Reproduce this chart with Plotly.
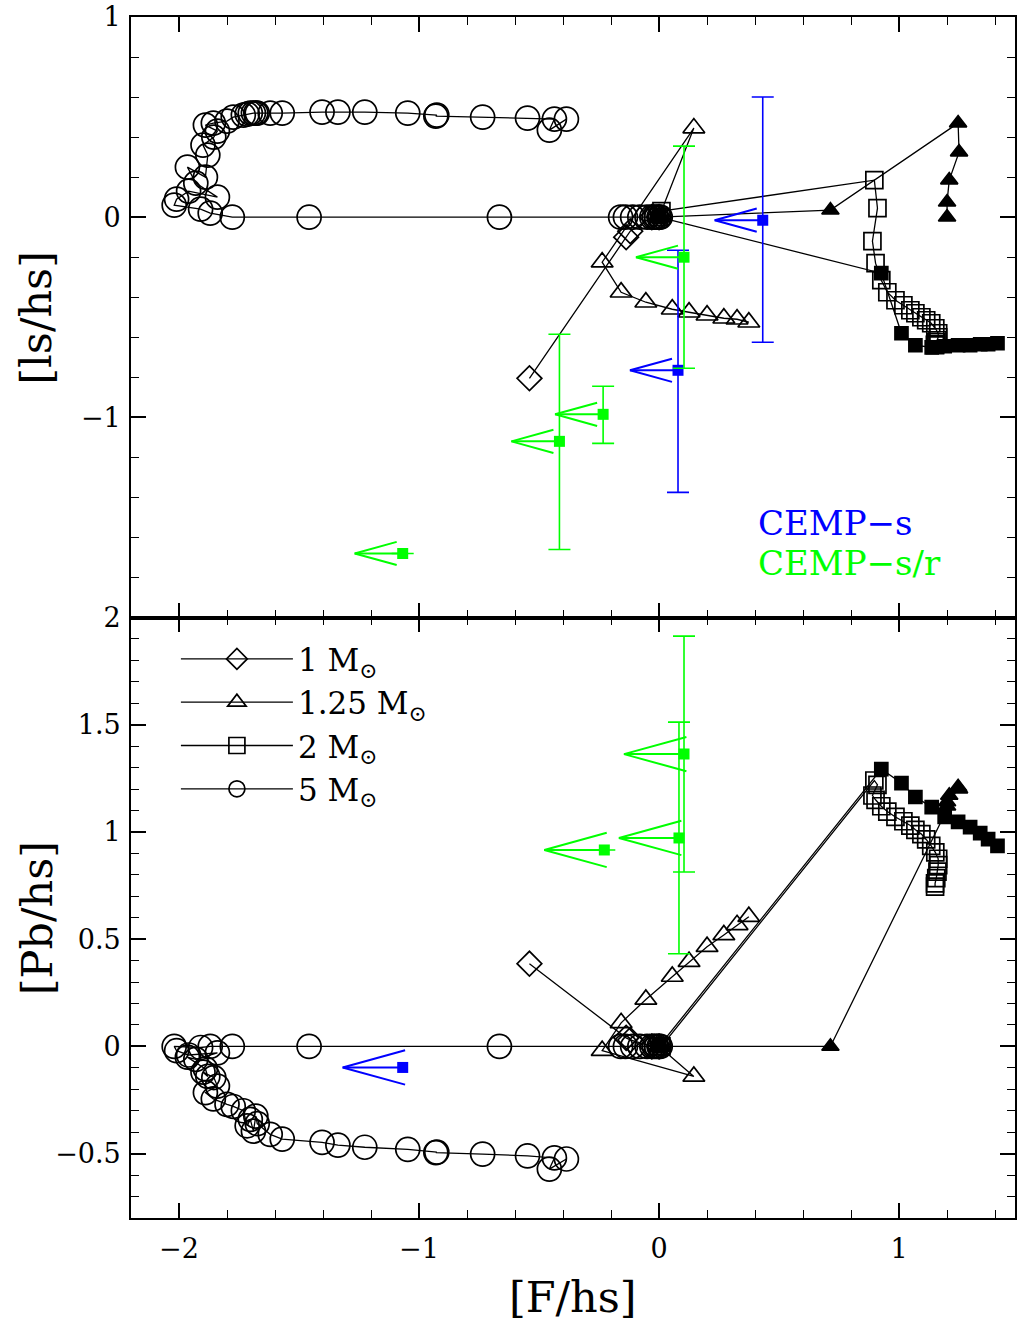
import plotly.graph_objects as go
from plotly.subplots import make_subplots

# ---------------- model tracks ----------------
# 1 Msun (open diamonds)
m1_x = [0.0, -0.03, -0.12, -0.137, -0.54]
m1_ls = [0.0, 0.0, -0.07, -0.10, -0.805]
m1_pb = [0.0, 0.0, 0.03, 0.04, 0.386]

# 1.25 Msun (open triangles)
m125_x = [0.0, 0.145, -0.237, -0.158, -0.055, 0.055, 0.125, 0.20, 0.27, 0.325, 0.374]
m125_ls = [0.0, 0.445, -0.225, -0.375, -0.425, -0.46, -0.475, -0.49, -0.505, -0.51, -0.525]
m125_pb = [0.0, -0.14, -0.02, 0.11, 0.219, 0.326, 0.395, 0.465, 0.52, 0.567, 0.605]

# 1.25 Msun variant (filled triangles)
m125f_x = [0.0, 0.714, 1.246, 1.25, 1.209, 1.20, 1.20]
m125f_ls = [0.0, 0.035, 0.47, 0.325, 0.185, 0.075, 0.0]
m125f_pb = [0.0, 0.0, 1.21, 1.20, 1.17, 1.14, 1.12]

# 2 Msun (open squares)
m2_x = [0.0, 0.01, 0.897, 0.91, 0.889, 0.902, 0.926, 0.951, 0.985, 1.018, 1.047, 1.068,
        1.093, 1.113, 1.134, 1.151, 1.163, 1.163, 1.16, 1.155, 1.15, 1.15]
m2_ls = [0.0, 0.03, 0.185, 0.045, -0.12, -0.23, -0.315, -0.375, -0.415, -0.44, -0.465, -0.48,
         -0.50, -0.515, -0.53, -0.555, -0.58, -0.60, -0.615, -0.625, -0.635, -0.64]
m2_pb = [0.0, 0.0, 1.24, 1.22, 1.17, 1.15, 1.12, 1.095, 1.07, 1.05, 1.03, 1.01,
         0.99, 0.965, 0.935, 0.905, 0.875, 0.845, 0.815, 0.785, 0.76, 0.745]

# 2 Msun variant (filled squares)
m2f_x = [0.0, 0.926, 1.01, 1.068, 1.136, 1.19, 1.246, 1.296, 1.338, 1.371, 1.41]
m2f_ls = [0.0, -0.28, -0.58, -0.64, -0.65, -0.645, -0.64, -0.64, -0.635, -0.635, -0.63]
m2f_pb = [0.0, 1.293, 1.228, 1.163, 1.116, 1.07, 1.047, 1.023, 0.995, 0.967, 0.935]

# 5 Msun (open circles)
m5_x = [0.0, 0.005, -0.01, -0.02, -0.03, -0.05, -0.08, -0.11, -0.14, -0.16, -0.665, -1.458,
        -1.778, -1.87, -1.91, -2.02, -2.01, -1.96, -1.84, -1.93, -1.965, -1.89, -1.88, -1.90,
        -1.855, -1.84, -1.89, -1.857, -1.80, -1.774, -1.732, -1.716, -1.703, -1.69, -1.68,
        -1.674, -1.62, -1.57, -1.404, -1.338, -1.226, -1.047, -0.926, -0.93, -0.735, -0.548,
        -0.436, -0.457, -0.386]
m5_ls = [0.0, 0.0, 0.0, 0.0, 0.0, 0.0, 0.0, 0.0, 0.0, 0.0, 0.0, 0.0,
         0.0, 0.02, 0.04, 0.06, 0.09, 0.13, 0.10, 0.17, 0.25, 0.20, 0.31, 0.36,
         0.40, 0.43, 0.46, 0.47, 0.48, 0.50, 0.51, 0.515, 0.52, 0.52, 0.52,
         0.52, 0.52, 0.52, 0.525, 0.525, 0.525, 0.52, 0.51, 0.505, 0.50, 0.495,
         0.49, 0.435, 0.49]
m5_pb = [0.0, 0.0, 0.0, 0.0, 0.0, 0.0, 0.0, 0.0, 0.0, 0.0, 0.0, 0.0,
         0.0, 0.0, -0.005, 0.0, -0.02, -0.04, -0.03, -0.06, -0.05, -0.105, -0.14, -0.12,
         -0.145, -0.185, -0.215, -0.245, -0.27, -0.28, -0.30, -0.37, -0.34, -0.395, -0.325,
         -0.36, -0.41, -0.432, -0.447, -0.46, -0.47, -0.48, -0.493, -0.495, -0.502, -0.51,
         -0.52, -0.572, -0.525]

# ---------------- observations (upper limits in [F/hs]) ----------------
# top panel [ls/hs]
obs_s_ls_x = [0.432, 0.079]
obs_s_ls_y = [-0.015, -0.765]
obs_s_ls_err_plus = [0.615, 0.60]
obs_s_ls_err_minus = [0.61, 0.61]

obs_sr_ls_x = [0.104, -0.233, -0.415, -1.068]
obs_sr_ls_y = [-0.20, -0.985, -1.12, -1.68]
obs_sr_ls_err_plus = [0.555, 0.14, 0.535, 0.0]
obs_sr_ls_err_minus = [0.555, 0.145, 0.54, 0.0]

# bottom panel [Pb/hs]
obs_s_pb_x = [-1.068]
obs_s_pb_y = [-0.098]

obs_sr_pb_x = [-0.228, 0.083, 0.104]
obs_sr_pb_y = [0.916, 0.972, 1.363]
obs_sr_pb_err = [0.0, 0.54, 0.55]

legend_names = ["1 M<sub>⊙</sub>", "1.25 M<sub>⊙</sub>", "2 M<sub>⊙</sub>", "5 M<sub>⊙</sub>"]

BLUE = "#0000ff"
GREEN = "#00ff00"
FONT = "DejaVu Serif"


def limit_arrows(xs, ys, length, barb, half):
    X, Y = [], []
    for x, y in zip(xs, ys):
        tip = x - length
        X += [x, tip, None, tip + barb, tip, tip + barb, None]
        Y += [y, y, None, y + half, y, y - half, None]
    return X, Y


fig = make_subplots(rows=2, cols=1, shared_xaxes=True, vertical_spacing=0)

models = [
    (m1_x, m1_ls, m1_pb, "diamond-open", 19, legend_names[0], True),
    (m125_x, m125_ls, m125_pb, "triangle-up-open", 19, legend_names[1], True),
    (m2_x, m2_ls, m2_pb, "square-open", 17, legend_names[2], True),
    (m5_x, m5_ls, m5_pb, "circle-open", 24, legend_names[3], True),
    (m125f_x, m125f_ls, m125f_pb, "triangle-up", 15, "1.25f", False),
    (m2f_x, m2f_ls, m2f_pb, "square", 13, "2f", False),
]

for i, (mx, mls, mpb, sym, size, name, leg) in enumerate(models):
    for row, my in ((1, mls), (2, mpb)):
        fig.add_trace(go.Scatter(
            x=mx, y=my, mode="lines+markers", name=name,
            legendgroup=name, showlegend=(leg and row == 1),
            line=dict(color="black", width=1.3),
            marker=dict(symbol=sym, size=size, color="black",
                        line=dict(color="black", width=1.7)),
        ), row=row, col=1)

# top panel observations
for xs, ys, ep, em, col in ((obs_s_ls_x, obs_s_ls_y, obs_s_ls_err_plus, obs_s_ls_err_minus, BLUE),
                            (obs_sr_ls_x, obs_sr_ls_y, obs_sr_ls_err_plus, obs_sr_ls_err_minus, GREEN)):
    ax, ay = limit_arrows(xs, ys, 0.2, 0.175, 0.058)
    fig.add_trace(go.Scatter(x=ax, y=ay, mode="lines", showlegend=False,
                             line=dict(color=col, width=2)), row=1, col=1)
    fig.add_trace(go.Scatter(
        x=xs, y=ys, mode="markers", showlegend=False,
        marker=dict(symbol="square", size=11, color=col),
        error_y=dict(type="data", symmetric=False, array=ep, arrayminus=em,
                     color=col, thickness=1.6, width=11),
    ), row=1, col=1)

# bottom panel observations
for xs, ys, er, col in ((obs_s_pb_x, obs_s_pb_y, None, BLUE),
                        (obs_sr_pb_x, obs_sr_pb_y, obs_sr_pb_err, GREEN)):
    ax, ay = limit_arrows(xs, ys, 0.25, 0.26, 0.08)
    fig.add_trace(go.Scatter(x=ax, y=ay, mode="lines", showlegend=False,
                             line=dict(color=col, width=2)), row=2, col=1)
    kw = {}
    if er is not None:
        kw["error_y"] = dict(type="data", array=er, color=col, thickness=1.6, width=11)
    fig.add_trace(go.Scatter(
        x=xs, y=ys, mode="markers", showlegend=False,
        marker=dict(symbol="square", size=11, color=col), **kw), row=2, col=1)

axis_common = dict(
    showline=True, linecolor="black", linewidth=1.8, mirror="allticks",
    ticks="inside", ticklen=15, tickwidth=1.5, tickcolor="black",
    showgrid=False, zeroline=False,
    tickfont=dict(family=FONT, size=27, color="black"),
)

fig.update_xaxes(**axis_common, range=[-2.2, 1.483], tickmode="array", tickvals=[-2, -1, 0, 1],
                 minor=dict(ticks="inside", tickmode="linear", tick0=0, dtick=0.2,
                            ticklen=8, tickwidth=1.2, tickcolor="black", showgrid=False),
                 ticklabelstandoff=6)
fig.update_xaxes(showticklabels=False, row=1, col=1)
fig.update_yaxes(**axis_common, range=[-2, 1], tickmode="array", tickvals=[-1, 0, 1],
                 minor=dict(ticks="inside", tickmode="linear", tick0=0, dtick=0.2,
                            ticklen=8, tickwidth=1.2, tickcolor="black", showgrid=False),
                 ticklabelstandoff=3, row=1, col=1)
fig.update_yaxes(**axis_common, range=[-0.8, 2], tickmode="array",
                 tickvals=[-0.5, 0, 0.5, 1, 1.5, 2],
                 minor=dict(ticks="inside", tickmode="linear", tick0=0, dtick=0.1,
                            ticklen=8, tickwidth=1.2, tickcolor="black", showgrid=False),
                 ticklabelstandoff=3, row=2, col=1)

title_font = dict(family=FONT, size=43, color="black")
annotations = [
    dict(text="[ls/hs]", xref="paper", yref="paper", x=-0.107, y=0.75, textangle=-90,
         showarrow=False, font=title_font, xanchor="center", yanchor="middle"),
    dict(text="[Pb/hs]", xref="paper", yref="paper", x=-0.107, y=0.25, textangle=-90,
         showarrow=False, font=title_font, xanchor="center", yanchor="middle"),
    dict(text="[F/hs]", xref="paper", yref="paper", x=0.5, y=-0.066,
         showarrow=False, font=title_font, xanchor="center", yanchor="middle"),
    dict(text="CEMP−s", xref="x", yref="y", x=0.405, y=-1.53, showarrow=False,
         font=dict(family=FONT, size=34, color=BLUE), xanchor="left", yanchor="middle"),
    dict(text="CEMP−s/r", xref="x", yref="y", x=0.405, y=-1.73, showarrow=False,
         font=dict(family=FONT, size=34, color=GREEN), xanchor="left", yanchor="middle"),
]

fig.update_layout(
    width=1017, height=1326,
    margin=dict(l=131, r=0, t=17, b=108),
    plot_bgcolor="white", paper_bgcolor="white",
    annotations=annotations,
    legend=dict(x=0.0508, y=0.4877, xanchor="left", yanchor="top",
                bgcolor="rgba(0,0,0,0)", font=dict(family=FONT, size=31, color="black"),
                itemsizing="trace", itemwidth=112, tracegroupgap=0),
)

# remove the default 8 px page margin so the figure fills the window exactly
fig.write_html(
    "out.html",
    config={"displayModeBar": False},
    post_script="document.body.style.margin='0px';document.body.style.padding='0px';"
                "document.documentElement.style.overflow='hidden';",
)
